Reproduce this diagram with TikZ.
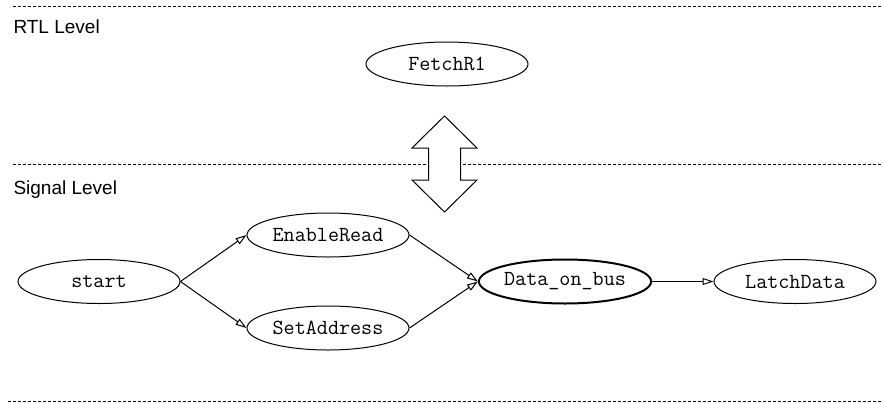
\documentclass[tikz,border=0pt]{standalone}
\usepackage{fontspec}
\setmainfont{Liberation Sans}
\usetikzlibrary{arrows.meta, shapes.geometric}

\begin{document}
\begin{tikzpicture}[x=1pt, y=-1pt, >={Triangle[open, length=11pt, width=7pt]}, line width=1pt]
    \tikzset{
        state/.style={ellipse, draw, inner sep=0pt, minimum width=162pt, minimum height=44pt, font=\fontsize{21.5}{22}\selectfont\ttfamily},
        level/.style={anchor=base west, inner sep=0pt, font=\fontsize{19}{20}\selectfont},
        levelline/.style={dash pattern=on 3pt off 2pt, line width=0.8pt}
    };
    \useasboundingbox (0,0) rectangle (883,402);
    % level boundaries
    \draw[levelline] (13,6) -- (883,6);
    \draw[levelline] (13,164) -- (883,164);
    \draw[levelline] (8,401) -- (883,401);
    \node[level] (rtl) at (13,33) {RTL Level};
    \node[level] (signal) at (13,194) {Signal Level};
    % RTL level
    \node[state] (fetch) at (447,64) {FetchR1};
    % refinement arrow
    \coordinate (updown) at (444.5,164);
    \draw[fill=white] (updown) ++(0,-48) -- ++(32.5,32) -- ++(-16.5,0) -- ++(0,32) -- ++(16.5,0)
        -- ++(-32.5,32) -- ++(-32.5,-32) -- ++(16.5,0) -- ++(0,-32) -- ++(-16.5,0) -- cycle;
    % signal level
    \node[state] (start) at (99,281.5) {start};
    \node[state] (enable) at (328,235) {EnableRead};
    \node[state] (setaddr) at (328,328) {SetAddress};
    \node[state, line width=2pt] (data) at (565,281.5) {Data\_on\_bus};
    \node[state] (latch) at (795,281.5) {LatchData};
    \draw[->] (start.east) -- (enable.west);
    \draw[->] (start.east) -- (setaddr.west);
    \draw[->] (enable.east) -- (data.west);
    \draw[->] (setaddr.east) -- (data.west);
    \draw[->] (data) -- (latch);
\end{tikzpicture}
\end{document}
